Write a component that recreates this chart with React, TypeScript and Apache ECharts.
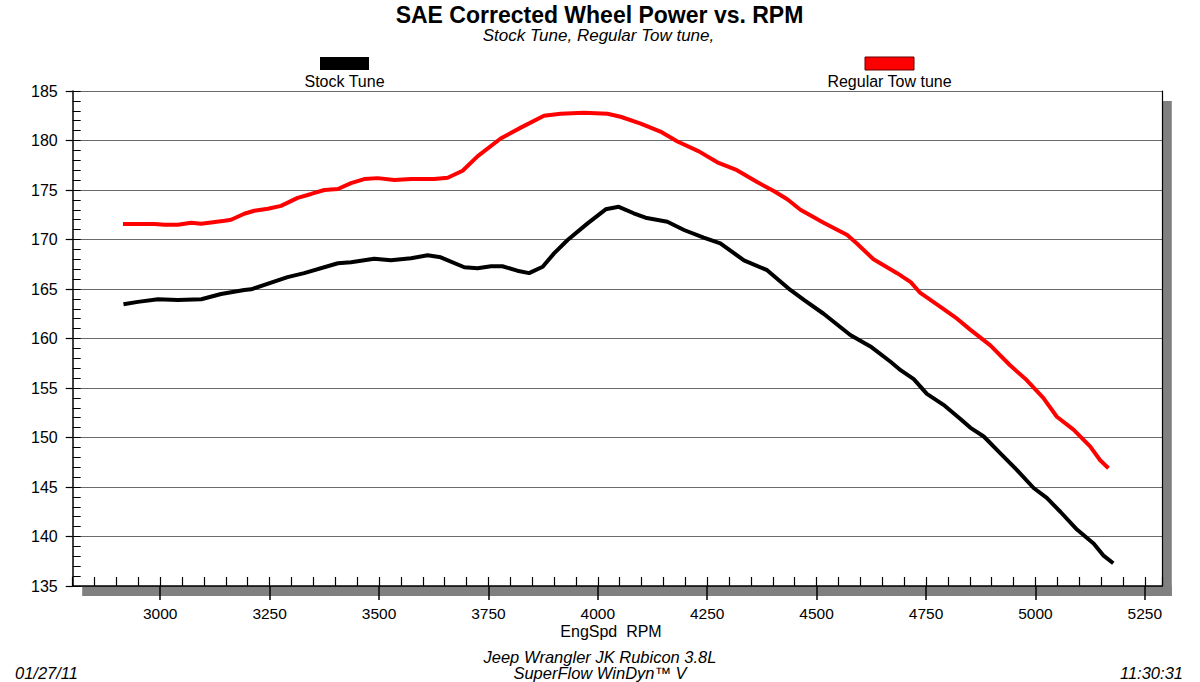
import React, { useEffect, useRef } from "react";
import * as echarts from "echarts";

const stockRpm = [2916, 2949, 2995, 3040, 3094, 3139, 3192, 3208, 3291, 3329, 3406, 3436, 3489, 3527, 3573, 3611, 3641, 3695, 3725, 3756, 3782, 3816, 3843, 3874, 3900, 3931, 3976, 4018, 4048, 4082, 4109, 4159, 4197, 4242, 4280, 4334, 4387, 4440, 4471, 4516, 4577, 4623, 4669, 4692, 4722, 4752, 4790, 4828, 4851, 4882, 4920, 4958, 4996, 5026, 5057, 5095, 5133, 5155, 5178];
const stockPower = [163.45, 163.7, 163.96, 163.9, 163.96, 164.5, 164.9, 164.97, 166.2, 166.6, 167.6, 167.7, 168.06, 167.9, 168.1, 168.4, 168.2, 167.2, 167.1, 167.3, 167.3, 166.85, 166.6, 167.25, 168.6, 169.95, 171.6, 173.05, 173.3, 172.65, 172.2, 171.8, 170.96, 170.2, 169.6, 167.9, 166.9, 164.9, 163.9, 162.5, 160.35, 159.2, 157.65, 156.8, 155.9, 154.4, 153.3, 151.9, 151.0, 150.1, 148.4, 146.7, 144.9, 143.9, 142.5, 140.7, 139.3, 138.1, 137.3];

const towRpm = [2915, 2987, 3010, 3040, 3071, 3094, 3147, 3162, 3192, 3215, 3246, 3276, 3314, 3345, 3375, 3406, 3436, 3466, 3497, 3535, 3573, 3626, 3657, 3691, 3725, 3778, 3824, 3877, 3915, 3968, 4022, 4052, 4098, 4143, 4182, 4231, 4273, 4318, 4364, 4402, 4433, 4463, 4516, 4570, 4592, 4630, 4684, 4715, 4737, 4783, 4821, 4851, 4897, 4942, 4980, 5018, 5049, 5087, 5125, 5148, 5167];
const towPower = [171.57, 171.57, 171.5, 171.5, 171.7, 171.6, 171.9, 172.0, 172.6, 172.9, 173.1, 173.4, 174.2, 174.6, 175.0, 175.1, 175.7, 176.1, 176.2, 176.0, 176.1, 176.1, 176.24, 176.95, 178.4, 180.2, 181.3, 182.5, 182.7, 182.8, 182.7, 182.4, 181.7, 180.9, 179.9, 178.9, 177.8, 177.0, 175.8, 174.9, 174.06, 173.0, 171.7, 170.45, 169.6, 168.0, 166.6, 165.7, 164.6, 163.2, 162.0, 160.9, 159.3, 157.3, 155.8, 154.0, 152.1, 150.8, 149.1, 147.7, 146.9];

const xMajorTicks = [3000, 3250, 3500, 3750, 4000, 4250, 4500, 4750, 5000, 5250];
const seriesNames = ["Stock Tune", "Regular Tow tune"];
const titleText = "SAE Corrected Wheel Power vs. RPM";
const subtitleText = "Stock Tune, Regular Tow tune,";
const xAxisTitle = "EngSpd  RPM";
const footerLines = ["Jeep Wrangler JK Rubicon 3.8L", "SuperFlow WinDyn\u2122 V"];
const dateText = "01/27/11";
const timeText = "11:30:31";

const FONT = "'Liberation Sans', Arial, sans-serif";

export default function App() {
  const ref = useRef<HTMLDivElement>(null);
  useEffect(() => {
    if (!ref.current) return;
    const chart = echarts.init(ref.current, null, { renderer: "svg" });
    const L = 72.7, R = 1162.3, T = 91, B = 586;
    const txt = (x: number, y: number, text: string, opts: any = {}) => ({
      type: "text",
      x,
      y,
      style: {
        text,
        fill: "#000",
        font: `${opts.style || ""} ${opts.weight || "normal"} ${opts.size || 15}px ${FONT}`,
        textAlign: opts.align || "center",
        textVerticalAlign: "middle",
      },
    });
    chart.setOption({
      animation: false,
      backgroundColor: "#fff",
      textStyle: { fontFamily: FONT },
      grid: { left: L, right: 1200 - R, top: T, bottom: 682 - B, containLabel: false },
      xAxis: [
        {
          type: "value",
          min: 2800,
          max: 5290,
          axisLine: { show: true, onZero: false, lineStyle: { color: "#000", width: 1.5 } },
          axisTick: { show: true, customValues: xMajorTicks, inside: false, length: 14, lineStyle: { color: "#000", width: 1.5 } },
          axisLabel: {
            show: true,
            customValues: xMajorTicks,
            margin: 19,
            color: "#000",
            fontSize: 15.5,
            fontFamily: FONT,
            formatter: (v: number) => String(v),
          },
          splitLine: { show: false },
        },
        {
          type: "value",
          min: 2800,
          max: 5290,
          interval: 50,
          position: "bottom",
          axisLine: { show: false },
          axisTick: { show: true, inside: true, length: 9, lineStyle: { color: "#000", width: 1.2 } },
          axisLabel: { show: false },
          splitLine: { show: false },
        },
      ],
      yAxis: [
        {
          type: "value",
          min: 135,
          max: 185,
          interval: 5,
          axisLine: { show: true, onZero: false, lineStyle: { color: "#000", width: 1.5 } },
          axisTick: { show: true, inside: false, length: 7, lineStyle: { color: "#000", width: 1.2 } },
          axisLabel: { show: true, margin: 15, color: "#000", fontSize: 16, fontFamily: FONT },
          splitLine: { show: true, lineStyle: { color: "#6a6a6a", width: 1 } },
        },
        {
          type: "value",
          min: 135,
          max: 185,
          interval: 1,
          position: "left",
          axisLine: { show: false },
          axisTick: { show: true, inside: true, length: 8, lineStyle: { color: "#000", width: 1 } },
          axisLabel: { show: false },
          splitLine: { show: false },
        },
        {
          type: "value",
          min: 135,
          max: 185,
          position: "right",
          axisLine: { show: true, onZero: false, lineStyle: { color: "#000", width: 1.2 } },
          axisTick: { show: false },
          axisLabel: { show: false },
          splitLine: { show: false },
        },
      ],
      series: [
        {
          name: seriesNames[0],
          type: "line",
          showSymbol: false,
          xAxisIndex: 0,
          yAxisIndex: 0,
          lineStyle: { color: "#000", width: 4 },
          itemStyle: { color: "#000" },
          data: stockRpm.map((r, i) => [r, stockPower[i]]),
          z: 5,
        },
        {
          name: seriesNames[1],
          type: "line",
          showSymbol: false,
          xAxisIndex: 0,
          yAxisIndex: 0,
          lineStyle: { color: "#ff0000", width: 4 },
          itemStyle: { color: "#ff0000" },
          data: towRpm.map((r, i) => [r, towPower[i]]),
          z: 5,
        },
      ],
      graphic: [
        { type: "rect", z: 0, shape: { x: L + 9.5, y: B, width: R - L, height: 10 }, style: { fill: "#808080" } },
        { type: "rect", z: 0, shape: { x: R, y: T + 10, width: 9.5, height: B - T }, style: { fill: "#808080" } },
        txt(599.5, 14.5, titleText, { weight: "bold", size: 23 }),
        txt(598.5, 35.5, subtitleText, { style: "italic", size: 17 }),
        { type: "rect", shape: { x: 320, y: 57, width: 49, height: 13 }, style: { fill: "#000" } },
        txt(344.5, 81.5, seriesNames[0], { size: 16 }),
        { type: "rect", shape: { x: 865, y: 57, width: 49, height: 13 }, style: { fill: "#ff0000", stroke: "#600", lineWidth: 1 } },
        txt(889.5, 81.5, seriesNames[1], { size: 16 }),
        txt(611, 631, xAxisTitle, { size: 16 }),
        txt(600, 656.5, footerLines[0], { style: "italic", size: 16.5 }),
        txt(600, 673, footerLines[1], { style: "italic", size: 16.5 }),
        txt(15, 673, dateText, { style: "italic", size: 16.5, align: "left" }),
        txt(1183, 673, timeText, { style: "italic", size: 16.5, align: "right" }),
      ],
    });
    return () => chart.dispose();
  }, []);
  return <div ref={ref} style={{ position: "fixed", left: 0, top: 0, width: 1200, height: 682 }} />;
}
